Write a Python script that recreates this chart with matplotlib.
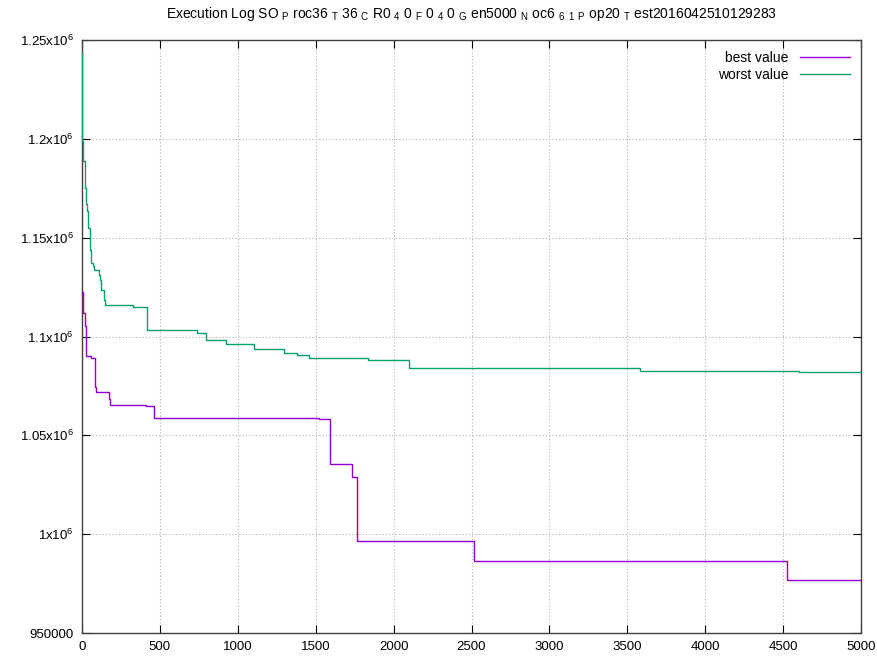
import matplotlib
matplotlib.use("Agg")
import matplotlib.pyplot as plt
from matplotlib.ticker import FuncFormatter, MultipleLocator

plt.rcParams['font.family'] = ['Liberation Sans', 'DejaVu Sans']
plt.rcParams['mathtext.fontset'] = 'custom'
plt.rcParams['mathtext.rm'] = 'Liberation Sans'
plt.rcParams['mathtext.it'] = 'Liberation Sans'

# generations where the value changes, and the value from there on
gens_best = [0, 8, 19, 26, 56, 83, 90, 175, 180, 411, 460, 1523, 1594, 1735,
             1763, 2516, 4527, 5000]
best = [1122700, 1111900, 1105500, 1090000, 1088900, 1074600, 1072100, 1068400,
        1065300, 1064800, 1058800, 1058100, 1035500, 1028800, 996500, 986400,
        976800, 976800]

gens_worst = [0, 1, 8, 17, 26, 32, 38, 49, 55, 68, 79, 109, 115, 124, 143, 150,
              325, 419, 736, 794, 922, 1104, 1299, 1378, 1457, 1837, 2101, 3584,
              4601, 5000]
worst = [1244000, 1199000, 1189000, 1175000, 1167000, 1163500, 1155000, 1144000,
         1137000, 1135700, 1133600, 1131000, 1128600, 1123500, 1118500, 1116000,
         1115000, 1103300, 1102000, 1098000, 1096200, 1093800, 1091500, 1090600,
         1089100, 1088100, 1084100, 1082700, 1081900, 1081900]

raw_title = "Execution Log SO_Proc36_T36_CR0_40_F0_40_Gen5000_Noc6_6_1_Pop20_Test2016042510129283"


def enhanced(s):
    # gnuplot style: "_x" puts the single next character in subscript
    out = ""
    i = 0
    while i < len(s):
        if s[i] == "_" and i + 1 < len(s):
            out += " $_\\mathrm{%s}$ " % s[i + 1]
            i += 2
        else:
            out += s[i]
            i += 1
    return out.replace("  ", " ")


fig = plt.figure(figsize=(8.77, 6.59), dpi=100)
ax = fig.add_axes([82/877, 1-633/659, (861-82)/877, (633-40)/659])

ax.plot(gens_best, best, drawstyle='steps-post', color='#9400D3', lw=1,
        label='best value', zorder=3, clip_on=False)
ax.plot(gens_worst, worst, drawstyle='steps-post', color='#009E73', lw=1,
        label='worst value', zorder=3, clip_on=False)

ax.set_xlim(0, 5000)
ax.set_ylim(950000, 1250000)
ax.xaxis.set_major_locator(MultipleLocator(500))
ax.yaxis.set_major_locator(MultipleLocator(50000))


def yfmt(v, pos):
    if abs(v - 950000) < 1:
        return "950000"
    m = v / 1e6
    s = ("%.2f" % m).rstrip('0').rstrip('.')
    return s + r"x10$^{6}$"


ax.yaxis.set_major_formatter(FuncFormatter(yfmt))
ax.tick_params(direction='in', length=6, top=True, right=True, labelsize=9.5, pad=6)
ax.grid(True, linestyle=(0, (1, 2)), color='#b0b0b0', lw=0.8)
for s in ax.spines.values():
    s.set_color('#404040')
    s.set_linewidth(1)

ax.set_title(enhanced(raw_title), fontsize=10, pad=16)
ax.legend(loc='upper right', frameon=False, markerfirst=False, fontsize=10,
          handlelength=3.6, borderaxespad=0.4, labelspacing=0.2)

fig.savefig('out.png', dpi=100)
